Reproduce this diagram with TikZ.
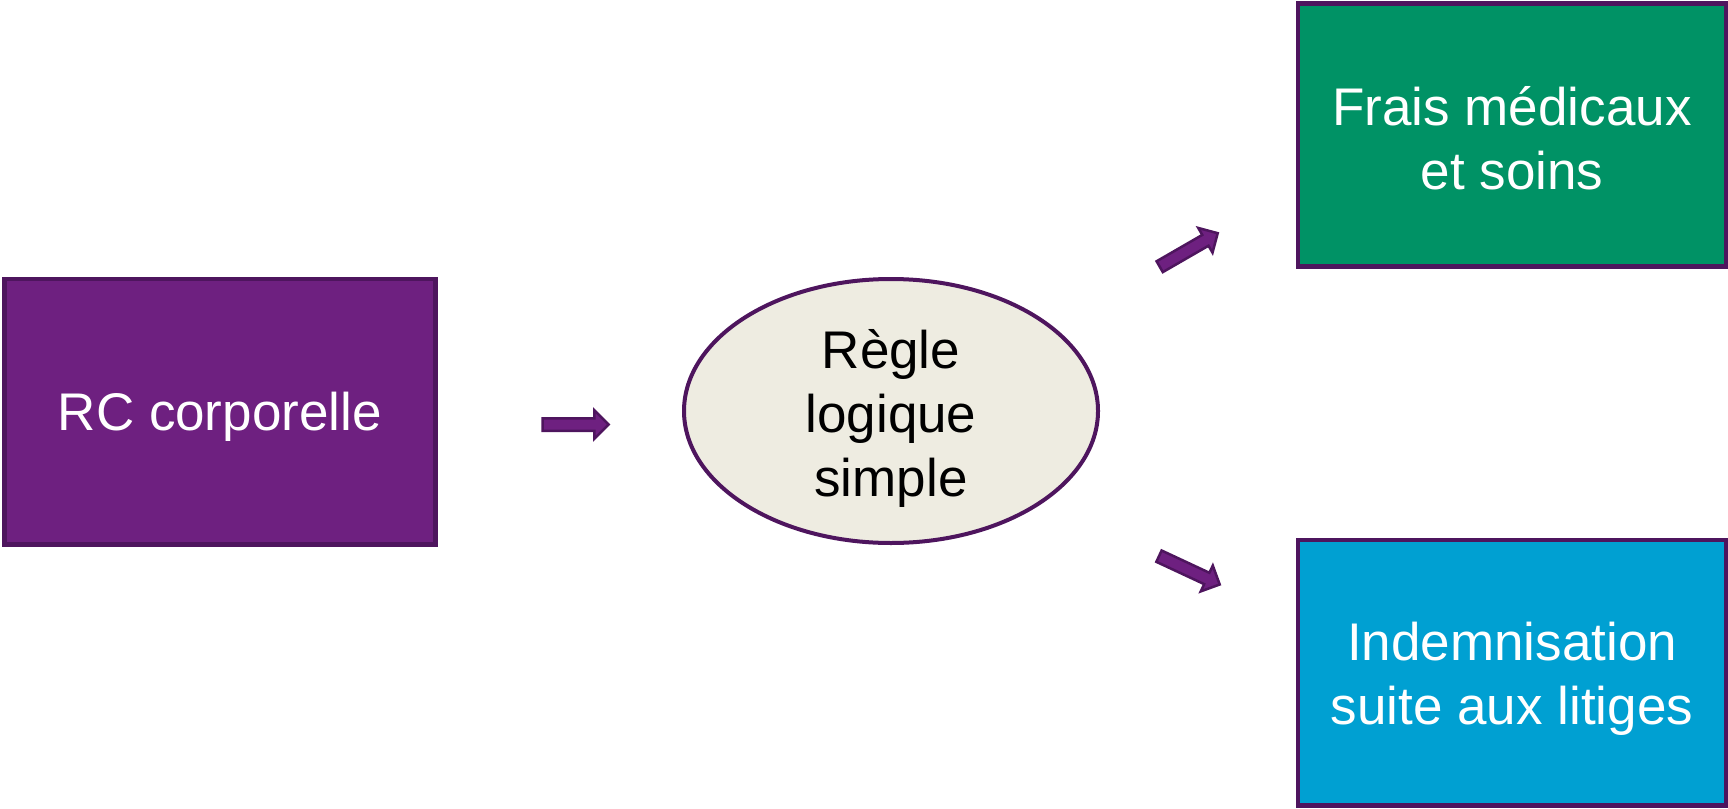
\documentclass[tikz,border=0pt]{standalone}
\usepackage{fontspec}
\setmainfont{Liberation Sans}
\usetikzlibrary{shapes.geometric,shapes.arrows}
\definecolor{pfill}{HTML}{6E2080}
\definecolor{pline}{HTML}{4E155E}
\definecolor{gfill}{HTML}{009265}
\definecolor{bfill}{HTML}{00A0D2}
\definecolor{efill}{HTML}{EEECE1}
\begin{document}
\begin{tikzpicture}[x=1pt,y=-1pt,
  box/.style={draw=pline,line width=4.5pt,rectangle,inner sep=0pt},
  lbl/.style={text=white,font=\fontsize{53}{64}\selectfont,align=center,inner sep=0pt},
  blockarrow/.style={single arrow,draw=pline,fill=pfill,line width=2.5pt,
    minimum width=0pt,inner xsep=0pt,inner ysep=5pt,single arrow head extend=8pt,
    single arrow tip angle=90,minimum height=66pt}]
\useasboundingbox (0,0) rectangle (1728,808);
\node[box,fill=pfill,minimum width=431pt,minimum height=265.6pt] (rc) at (219.8,411.6) {};
\node[lbl] (rct) at ([yshift=-5pt]rc.center) {RC corporelle};
\node[ellipse,draw=pline,line width=4pt,fill=efill,minimum width=414pt,minimum height=264pt,
  inner sep=0pt] (reg) at (891,411) {};
\node[lbl,text=black] (regt) at ([yshift=-7pt]reg.center) {Règle\\logique\\simple};
\node[box,fill=gfill,minimum width=428pt,minimum height=263.4pt] (fm) at (1512,135) {};
\node[lbl] (fmt) at ([yshift=-3pt]fm.center) {Frais médicaux\\et soins};
\node[box,fill=bfill,minimum width=428pt,minimum height=265.6pt] (ind) at (1512,672.8) {};
\node[lbl] (indt) at ([yshift=-6pt]ind.center) {Indemnisation\\suite aux litiges};
\node[blockarrow] (a1) at (572.5,424.5) {};
\node[blockarrow,minimum height=67pt,rotate=30] (a2) at (1186,251.5) {};
\node[blockarrow,minimum height=67pt,rotate=-25] (a3) at (1186.5,569) {};
\end{tikzpicture}
\end{document}
